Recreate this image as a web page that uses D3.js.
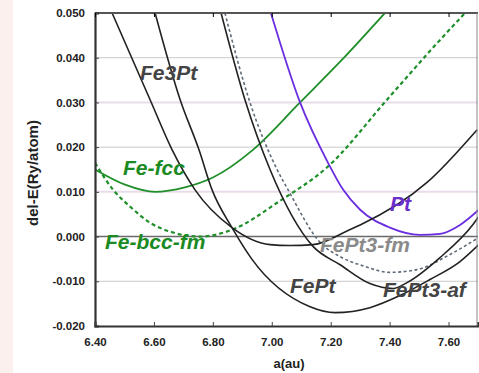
<!DOCTYPE html>
<html>
<head>
<meta charset="utf-8">
<script src="https://cdn.jsdelivr.net/npm/d3@7"></script>
<style>
  body { margin: 0; background: #fff; }
  svg { display: block; font-family: "Liberation Sans", Arial, sans-serif; }
</style>
</head>
<body>
<div id="chart"></div>
<script>
const width = 479;
const height = 373;

// data: [a (au), del-E (Ry/atom)]
const fe3pt = [
  [6.458, 0.0500], [6.587, 0.0306], [6.661, 0.0195], [6.739, 0.0105],
  [6.865, 0.0020], [6.994, -0.0018], [7.062, -0.0020], [7.140, -0.0018],
  [7.266, 0.0016], [7.300, 0.0026], [7.527, 0.0121], [7.697, 0.0239]
];
const fept = [
  [6.604, 0.0500], [6.689, 0.0306], [6.753, 0.0194], [6.797, 0.0105],
  [6.865, 0.0020], [6.933, -0.0051], [7.130, -0.0157], [7.215, -0.0170],
  [7.333, -0.0159], [7.435, -0.0132], [7.537, -0.0096], [7.639, -0.0056],
  [7.703, -0.0018]
];
const fept3af = [
  [6.828, 0.0500], [6.909, 0.0306], [6.994, 0.0150], [7.140, -0.0022],
  [7.232, -0.0063], [7.333, -0.0105], [7.412, -0.0116], [7.459, -0.0103],
  [7.571, -0.0047], [7.683, 0.0027], [7.703, 0.0045]
];
const fept3fm = [
  [6.841, 0.0500], [6.923, 0.0306], [7.018, 0.0150], [7.055, 0.0105],
  [7.164, -0.0013], [7.232, -0.0045], [7.317, -0.0067], [7.401, -0.0080],
  [7.493, -0.0074], [7.605, -0.0040], [7.703, -0.0002]
];
const pt = [
  [6.997, 0.0500], [7.096, 0.0300], [7.191, 0.0165], [7.242, 0.0105],
  [7.300, 0.0060], [7.401, 0.0020], [7.503, 0.0004], [7.571, 0.0006],
  [7.639, 0.0026], [7.703, 0.0060]
];
const fefcc = [
  [6.400, 0.0150], [6.502, 0.0116], [6.604, 0.0100], [6.705, 0.0110],
  [6.800, 0.0132], [6.936, 0.0194], [7.096, 0.0300], [7.232, 0.0391],
  [7.384, 0.0500]
];
const febccfm = [
  [6.400, 0.0165], [6.461, 0.0105], [6.519, 0.0067], [6.587, 0.0031],
  [6.665, 0.0009], [6.756, 0.0000], [6.868, 0.0016], [7.028, 0.0080],
  [7.188, 0.0155], [7.391, 0.0306], [7.537, 0.0415], [7.656, 0.0500]
];

const xTicks = [6.4, 6.6, 6.8, 7.0, 7.2, 7.4, 7.6];
const yTicks = [-0.02, -0.01, 0, 0.01, 0.02, 0.03, 0.04, 0.05];

const plotLeft = 95, plotRight = 478, plotTop = 13, plotBottom = 326;

const x = d3.scaleLinear().domain([6.40, 7.70]).range([plotLeft, plotRight]);
const y = d3.scaleLinear().domain([-0.020, 0.050]).range([plotBottom, plotTop]);

const svg = d3.select("#chart")
  .append("svg")
  .attr("width", width)
  .attr("height", height);

// pink strip on the far left
svg.append("rect")
  .attr("x", 0).attr("y", 0)
  .attr("width", 13).attr("height", height)
  .attr("fill", "#fcf0ef");

// grid
const pinkRow = d => Math.abs(d - 0.03) < 1e-9 || Math.abs(d - 0.01) < 1e-9;
svg.append("g")
  .selectAll("line")
  .data(yTicks.filter(d => d !== 0 && d !== -0.02 && d !== 0.05))
  .join("line")
  .attr("x1", plotLeft).attr("x2", plotRight)
  .attr("y1", d => y(d)).attr("y2", d => y(d))
  .attr("stroke", d => pinkRow(d) ? "#e8dcea" : "#c9c9c9")
  .attr("stroke-width", d => pinkRow(d) ? 2 : 1);

svg.append("line")
  .attr("x1", plotLeft).attr("x2", plotRight)
  .attr("y1", y(0)).attr("y2", y(0))
  .attr("stroke", "#6a6a6a")
  .attr("stroke-width", 1.5);

// curves
svg.append("clipPath").attr("id", "clip")
  .append("rect")
  .attr("x", plotLeft).attr("y", plotTop)
  .attr("width", plotRight - plotLeft).attr("height", plotBottom - plotTop);

const line = d3.line()
  .x(d => x(d[0]))
  .y(d => y(d[1]))
  .curve(d3.curveMonotoneX);

const series = [
  { data: fefcc, color: "#1f8f2a", w: 1.8, dash: null },
  { data: febccfm, color: "#1f8f2a", w: 2.2, dash: "4,3" },
  { data: pt, color: "#6a2de0", w: 1.8, dash: null },
  { data: fept3fm, color: "#5f6b78", w: 1.6, dash: "3,2.5" },
  { data: fe3pt, color: "#222", w: 1.6, dash: null },
  { data: fept, color: "#222", w: 1.6, dash: null },
  { data: fept3af, color: "#222", w: 1.6, dash: null }
];

svg.append("g")
  .attr("clip-path", "url(#clip)")
  .selectAll("path")
  .data(series)
  .join("path")
  .attr("d", d => line(d.data))
  .attr("fill", "none")
  .attr("stroke", d => d.color)
  .attr("stroke-width", d => d.w)
  .attr("stroke-dasharray", d => d.dash);

// frame
svg.append("line")
  .attr("x1", plotLeft).attr("x2", plotRight).attr("y1", plotTop).attr("y2", plotTop)
  .attr("stroke", "#555").attr("stroke-width", 2);
svg.append("line")
  .attr("x1", plotRight - 1).attr("x2", plotRight - 1).attr("y1", plotTop).attr("y2", plotBottom)
  .attr("stroke", "#888").attr("stroke-width", 1);

// axes
const yFormat = d => d3.format(".3f")(d).replace("\u2212", "-");
const yAxis = svg.append("g")
  .attr("transform", `translate(${plotLeft},0)`)
  .call(d3.axisLeft(y).tickValues(yTicks).tickFormat(yFormat).tickSize(-4).tickPadding(10));
const xAxis = svg.append("g")
  .attr("transform", `translate(0,${plotBottom})`)
  .call(d3.axisBottom(x).tickValues(xTicks).tickFormat(d3.format(".2f")).tickSize(-4).tickPadding(12));
svg.append("g")
  .attr("transform", `translate(0,${plotTop})`)
  .call(d3.axisTop(x).tickValues(xTicks).tickFormat("").tickSize(-4))
  .select(".domain").remove();

[yAxis, xAxis].forEach(g => {
  g.select(".domain").attr("stroke", "#333").attr("stroke-width", 2.2);
  g.selectAll(".tick line").attr("stroke", "#444");
  g.selectAll("text")
    .attr("fill", "#222")
    .style("font-size", "11.5px")
    .style("font-weight", "bold");
});

// axis titles
svg.append("text")
  .attr("transform", "translate(38,173) rotate(-90)")
  .attr("text-anchor", "middle")
  .style("font-size", "15px")
  .style("font-weight", "bold")
  .attr("fill", "#222")
  .text("del-E(Ry/atom)");

svg.append("text")
  .attr("x", 289).attr("y", 368)
  .attr("text-anchor", "middle")
  .style("font-size", "13px")
  .style("font-weight", "bold")
  .attr("fill", "#222")
  .text("a(au)");

// curve labels
const labels = [
  { t: "Fe3Pt", x: 140, y: 80, c: "#444" },
  { t: "Fe-fcc", x: 123, y: 175, c: "#1a8a22" },
  { t: "Fe-bcc-fm", x: 105, y: 249, c: "#1a8a22" },
  { t: "Pt", x: 390, y: 211, c: "#6a2fc8" },
  { t: "FePt3-fm", x: 320, y: 252, c: "#8a8a8a" },
  { t: "FePt", x: 290, y: 293, c: "#444" },
  { t: "FePt3-af", x: 383, y: 297, c: "#444" }
];

svg.append("g")
  .selectAll("text")
  .data(labels)
  .join("text")
  .attr("x", d => d.x)
  .attr("y", d => d.y)
  .attr("fill", d => d.c)
  .style("font-size", "21px")
  .style("font-weight", "bold")
  .style("font-style", "italic")
  .text(d => d.t);
</script>
</body>
</html>
